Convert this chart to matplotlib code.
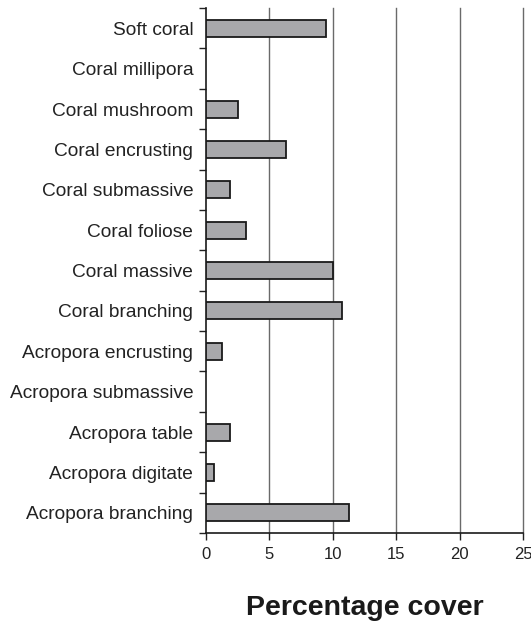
import matplotlib
matplotlib.use("Agg")
import matplotlib.pyplot as plt
import numpy as np

plt.rcParams['font.family'] = ['Liberation Sans', 'DejaVu Sans']

categories = ["Soft coral", "Coral millipora", "Coral mushroom", "Coral encrusting",
              "Coral submassive", "Coral foliose", "Coral massive", "Coral branching",
              "Acropora encrusting", "Acropora submassive", "Acropora table",
              "Acropora digitate", "Acropora branching"]
values = [9.45, 0.0, 2.57, 6.3, 1.9, 3.2, 10.05, 10.7, 1.3, 0.0, 1.9, 0.65, 11.3]
xticks = [0, 5, 10, 15, 20, 25]

fig = plt.figure(figsize=(5.31, 6.23), dpi=100)
ax = fig.add_axes([0.3874, 0.1445, 0.5981, 0.8425])

y = np.arange(len(categories))
for yi, v in zip(y, values):
    if v > 0:
        ax.barh(yi, v, height=0.42, color='#a8a8ab', edgecolor='#1a1a1a', linewidth=1.3, zorder=3)

ax.set_xlim(0, 25)
ax.set_ylim(len(categories) - 0.5, -0.5)

for xv in xticks[1:]:
    ax.axvline(xv, color='#6a6a6a', linewidth=1.0, zorder=1, clip_on=False)

ax.set_yticks(y)
ax.set_yticklabels(categories, fontsize=13.8, color='#222222')
ax.set_yticks(np.arange(-0.5, len(categories), 1), minor=True)
ax.tick_params(axis='y', which='major', length=0, pad=9)
ax.tick_params(axis='y', which='minor', length=5, width=1, direction='out', color='#222222')

ax.set_xticks(xticks)
ax.set_xticklabels([str(t) for t in xticks], fontsize=12, color='#222222')
ax.tick_params(axis='x', which='major', length=5, width=1, direction='out', pad=5, color='#222222')

for s in ['top', 'right']:
    ax.spines[s].set_visible(False)
for s in ['left', 'bottom']:
    ax.spines[s].set_color('#1a1a1a')
    ax.spines[s].set_linewidth(1.2)

ax.set_xlabel("Percentage cover", fontsize=20.5, fontweight='bold', color='#1a1a1a', labelpad=24)

fig.savefig("out.png", dpi=100)
